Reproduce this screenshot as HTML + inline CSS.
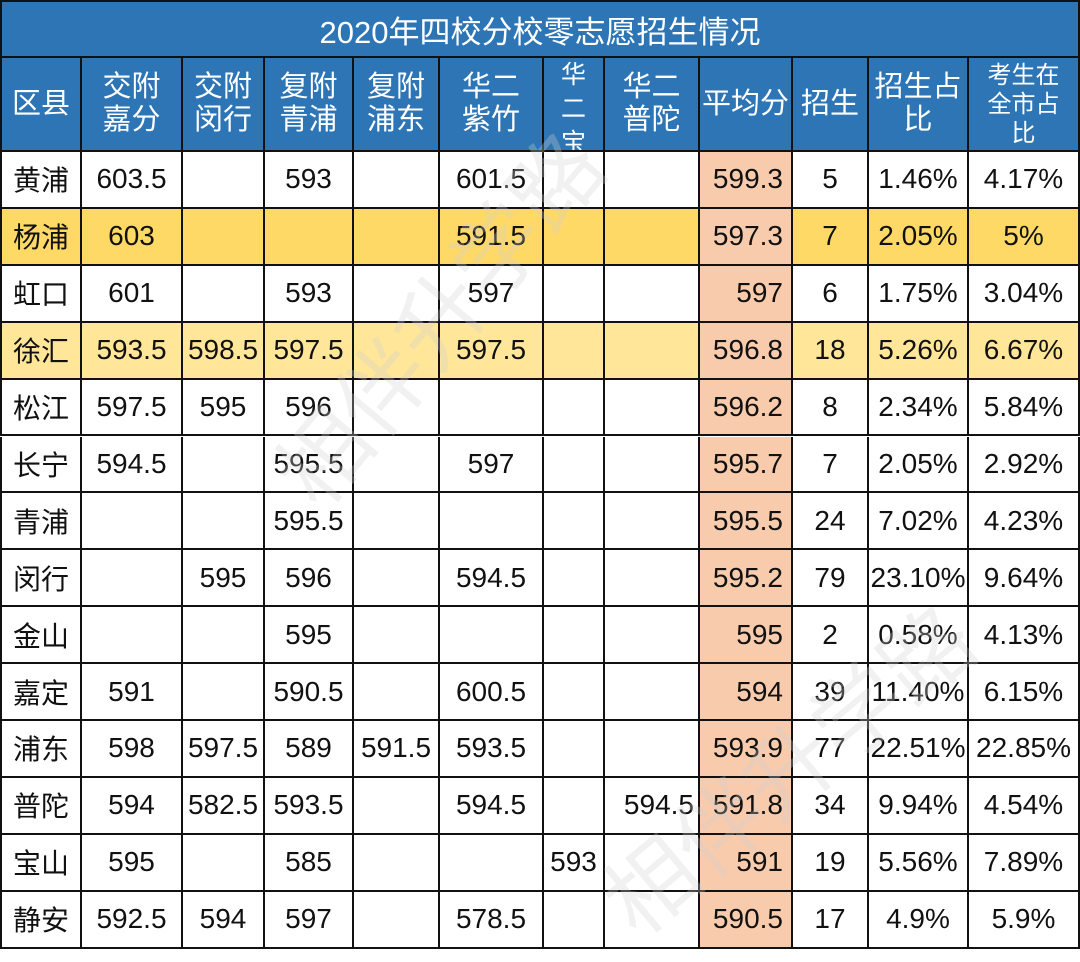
<!DOCTYPE html>
<html><head><meta charset="utf-8"><style>
body{margin:0;width:1080px;height:962px;background:#fff;overflow:hidden;position:relative;font-family:"Liberation Sans","Noto Sans CJK SC",sans-serif}
.c{position:absolute;box-sizing:border-box;border-right:2px solid #111;border-bottom:2px solid #111;display:flex;align-items:center;justify-content:center;font-size:28px;color:#111;white-space:nowrap;overflow:hidden}
.h{background:#2E75B6;color:#fff;font-size:29px;line-height:33px;text-align:center;white-space:normal;font-family:"Liberation Sans","Noto Sans CJK SC",sans-serif}
#title{position:absolute;left:0;top:0;width:1080px;height:58px;background:#2E75B6;color:#fff;font-size:31px;display:flex;align-items:center;justify-content:center;border:2px solid #111;box-sizing:border-box}
.wm{position:absolute;color:rgba(210,210,210,0.3);font-size:90px;pointer-events:none;font-family:"Noto Sans CJK SC",sans-serif}
</style></head><body>
<div id="title">2020年四校分校零志愿招生情况</div>
<div id="tbl"></div>
<div class="wm" style="left:210px;top:250px;transform:rotate(-50deg)">相伴升学路</div>
<div class="wm" style="left:560px;top:700px;transform:rotate(-40deg)">相伴升学路</div>
<script>
const colX=[0,82,183,265,354,440,544,605,700,793,869,969,1080];
const headers=["区县","交附<br>嘉分","交附<br>闵行","复附<br>青浦","复附<br>浦东","华二<br>紫竹","华<br>二<br>宝","华二<br>普陀","平均分","招生","招生占<br>比","考生在<br>全市占<br>比"];
const districts=["黄浦","杨浦","虹口","徐汇","松江","长宁","青浦","闵行","金山","嘉定","浦东","普陀","宝山","静安"];
const scores=[
["603.5","","593","","601.5","",""],
["603","","","","591.5","",""],
["601","","593","","597","",""],
["593.5","598.5","597.5","","597.5","",""],
["597.5","595","596","","","",""],
["594.5","","595.5","","597","",""],
["","","595.5","","","",""],
["","595","596","","594.5","",""],
["","","595","","","",""],
["591","","590.5","","600.5","",""],
["598","597.5","589","591.5","593.5","",""],
["594","582.5","593.5","","594.5","","594.5"],
["595","","585","","","593",""],
["592.5","594","597","","578.5","",""]];
const avgScores=["599.3","597.3","597","596.8","596.2","595.7","595.5","595.2","595","594","593.9","591.8","591","590.5"];
const enrolled=["5","7","6","18","8","7","24","79","2","39","77","34","19","17"];
const enrollShare=["1.46%","2.05%","1.75%","5.26%","2.34%","2.05%","7.02%","23.10%","0.58%","11.40%","22.51%","9.94%","5.56%","4.9%"];
const cityShare=["4.17%","5%","3.04%","6.67%","5.84%","2.92%","4.23%","9.64%","4.13%","6.15%","22.85%","4.54%","7.89%","5.9%"];
const tbl=document.getElementById('tbl');
const headTop=58,headH=94,rowH=56.9;
function cell(i,top,h,html,cls,bg){
  const d=document.createElement('div');
  d.className='c '+cls;
  d.style.left=colX[i]+'px';d.style.top=top+'px';
  d.style.width=(colX[i+1]-colX[i])+'px';d.style.height=h+'px';
  if(i===0)d.style.borderLeft='2px solid #111';
  if(bg)d.style.background=bg;
  d.innerHTML=html;
  tbl.appendChild(d);return d;
}
headers.forEach((t,i)=>{
  const d=cell(i,headTop,headH,t,'h');
  
  
  if(i===6){d.style.fontSize='25px';d.style.lineHeight='34px';d.style.alignItems='flex-start';d.style.marginTop='0';}
  if(i===11){d.style.fontSize='24px';d.style.lineHeight='29px';}
});
districts.forEach((dn,r)=>{
  const top=headTop+headH+r*rowH;
  const rowBg=r===1?'#FFD966':(r===3?'#FFE699':null);
  const vals=[dn,...scores[r],avgScores[r],enrolled[r],enrollShare[r],cityShare[r]];
  vals.forEach((v,i)=>{
    const bg=i===8?'#F8CBAD':rowBg;
    const d=cell(i,top,rowH,v,'',bg);
    
    
    if(i===8){d.style.justifyContent='flex-end';d.style.paddingRight='8px';}
    if(i===7&&v){d.style.justifyContent='flex-end';d.style.paddingRight='4px';}
  });
});
</script>
</body></html>
